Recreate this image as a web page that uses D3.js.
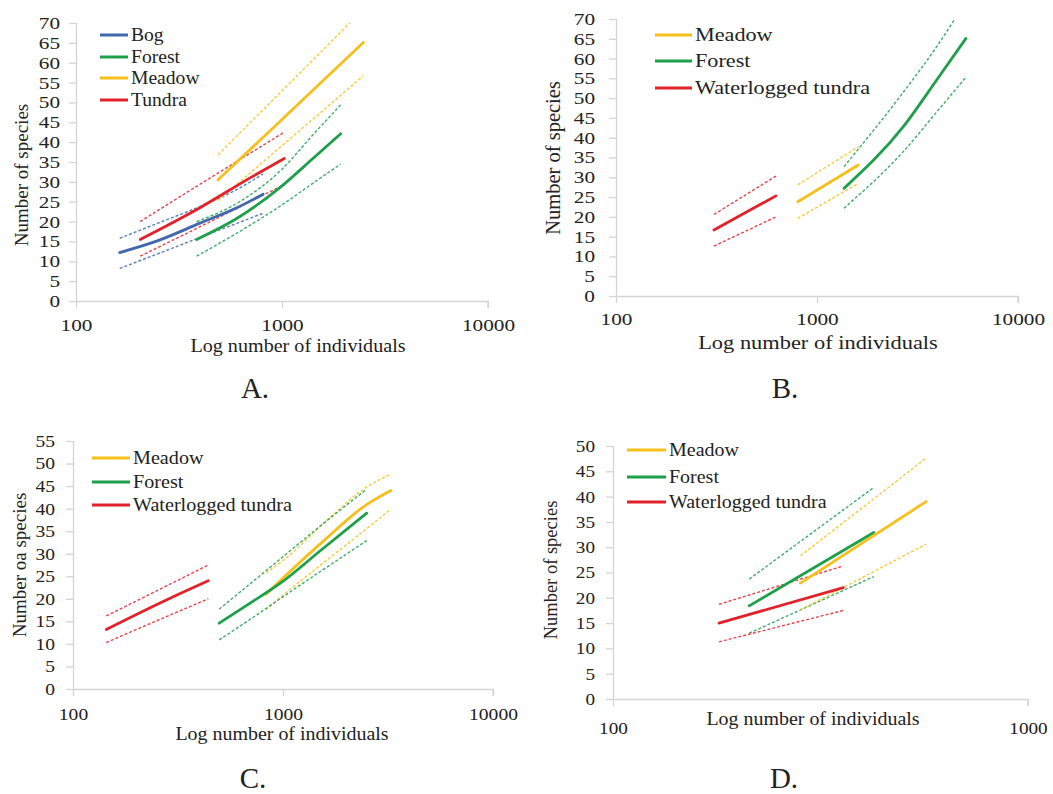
<!DOCTYPE html>
<html lang="en">
<head>
<meta charset="utf-8">
<script src="https://d3js.org/d3.v7.min.js"></script>
<style>
  body { margin: 0; background: #fff; }
</style>
</head>
<body>
<script>

// ---- data ----
// panel A
const aBogX = [163, 250, 400, 600, 810];
const aBogFit = [12.2, 15.2, 19.6, 23.4, 26.9];
const aBogHi = [15.8, 19.6, 23.8, 28.0, 32.0];
const aBogLo = [8.2, 11.9, 16.0, 19.5, 22.1];

const aForestX = [385, 600, 1000, 1400, 1927];
const aForestFit = [15.5, 20.7, 29.0, 35.7, 42.1];
const aForestHi = [20.0, 24.5, 33.2, 41.6, 49.4];
const aForestLo = [11.3, 17.0, 24.2, 29.5, 34.5];

const aMeadowX = [489, 1000, 2482];
const aMeadowFit = [30.5, 45.7, 65.1];
const aMeadowHi = [36.8, 52.9, 73.4];
const aMeadowLo = [25.3, 39.1, 56.7];

const aTundraX = [205, 400, 700, 1026];
const aTundraFit = [15.5, 23.5, 31.0, 35.9];
const aTundraHi = [20.0, 29.4, 37.2, 42.5];
const aTundraLo = [11.3, 18.7, 25.0, 29.3];

// panel B
const bMeadowX = [802, 1606];
const bMeadowFit = [23.8, 33.1];
const bMeadowHi = [28.1, 37.7];
const bMeadowLo = [19.6, 28.5];

const bForestX = [1362, 2688, 3939, 5510];
const bForestFit = [27.2, 42.8, 54.6, 65.1];
const bForestHi = [32.7, 51.5, 63.0, 74.5];
const bForestLo = [22.2, 36.5, 46.5, 55.3];

const bTundraX = [307, 625];
const bTundraFit = [16.7, 25.3];
const bTundraHi = [20.6, 30.3];
const bTundraLo = [12.6, 20.0];

// panel C
const cMeadowX = [830, 1000, 1600, 2415, 3268];
const cMeadowFit = [21.0, 24.6, 33.3, 40.4, 44.0];
const cMeadowHi = [25.8, 28.5, 37.2, 44.3, 47.7];
const cMeadowLo = [17.6, 20.8, 28.4, 35.0, 39.9];

const cForestX = [497, 700, 968, 1500, 2503];
const cForestFit = [14.6, 19.1, 23.4, 30.6, 39.0];
const cForestHi = [17.7, 23.4, 28.8, 36.1, 44.3];
const cForestLo = [10.9, 15.5, 20.0, 26.0, 32.9];

const cTundraX = [144, 280, 441];
const cTundraFit = [13.2, 19.8, 24.0];
const cTundraHi = [16.2, 22.9, 27.5];
const cTundraLo = [10.3, 16.1, 20.0];

// panel D
const dMeadowX = [283, 568];
const dMeadowFit = [22.9, 39.0];
const dMeadowHi = [28.3, 47.6];
const dMeadowLo = [17.6, 30.6];

const dForestX = [213, 425];
const dForestFit = [18.4, 32.9];
const dForestHi = [23.7, 41.8];
const dForestLo = [13.0, 24.2];

const dTundraX = [180, 359];
const dTundraFit = [15.0, 22.0];
const dTundraHi = [18.7, 26.3];
const dTundraLo = [11.3, 17.5];

const xTicksWide = [100, 1000, 10000];
const xTicksNarrow = [100, 1000];

const colors = {
  bog: '#4168ad',
  forest: '#1d9f4b',
  meadow: '#f6bf1c',
  tundra: '#e2222a'
};

const serif = "'Liberation Serif', 'DejaVu Serif', serif";

const svg = d3.select('body')
  .append('svg')
  .attr('width', 1053)
  .attr('height', 794);

function font(sel, size) {
  return sel.attr('font-family', serif)
    .style('font-family', serif)
    .style('font-size', size + 'px')
    .attr('fill', '#222');
}

// the scanned figure is a bit wider than tall, so text gets a horizontal stretch
function stext(g, x, y, sx, size, anchor, str) {
  return font(g.append('text'), size)
    .attr('transform', 'translate(' + x + ',' + y + ') scale(' + sx + ',1)')
    .attr('dy', '0.33em')
    .attr('text-anchor', anchor)
    .text(str);
}

function panel(p) {
  const x = d3.scaleLog().domain(p.xDomain).range([p.left, p.right]);
  const y = d3.scaleLinear().domain([0, p.yMax]).range([p.bottom, p.top]);
  const g = svg.append('g');

  g.append('clipPath').attr('id', 'clip' + p.id)
    .append('rect')
    .attr('x', p.left).attr('y', p.top)
    .attr('width', p.right - p.left).attr('height', p.bottom - p.top);

  // y axis
  const yAxis = d3.axisLeft(y)
    .tickValues(d3.range(0, p.yMax + 1, 5))
    .tickSize(7);
  const ya = g.append('g').attr('transform', 'translate(' + p.left + ',0)').call(yAxis);
  ya.attr('font-family', null);
  font(ya.selectAll('text'), p.tickFont)
    .attr('x', -p.yPad / p.tickSx)
    .attr('transform', 'scale(' + p.tickSx + ',1)');

  // x axis
  const xAxis = d3.axisBottom(x)
    .tickValues(p.xTicks)
    .tickFormat(d3.format('d'))
    .tickSize(7)
    .tickPadding(p.xPad);
  const xa = g.append('g').attr('transform', 'translate(0,' + p.bottom + ')').call(xAxis);
  xa.attr('font-family', null);
  font(xa.selectAll('text'), p.tickFont)
    .attr('transform', 'scale(' + p.tickSx + ',1)');

  g.selectAll('.domain, .tick line').attr('stroke', '#d4d4d4').attr('stroke-width', 1.3);
  xa.select('.domain').attr('d', 'M' + p.left + ',0.5H' + p.right + 'V7');
  ya.select('.domain').attr('d', 'M0.5,' + p.top + 'V' + p.bottom);

  const line = d3.line()
    .x(d => x(d[0]))
    .y(d => y(d[1]))
    .curve(d3.curveMonotoneX);

  const lines = g.append('g').attr('clip-path', 'url(#clip' + p.id + ')');
  p.series.forEach(function(s) {
    [s.hi, s.lo].forEach(function(v) {
      lines.append('path')
        .attr('fill', 'none')
        .attr('stroke', colors[s.key])
        .attr('stroke-opacity', 0.85)
        .attr('stroke-width', 1.4)
        .attr('stroke-dasharray', '3,2')
        .attr('d', line(d3.zip(s.x, v)));
    });
  });
  p.series.forEach(function(s) {
    lines.append('path')
      .attr('fill', 'none')
      .attr('stroke', colors[s.key])
      .attr('stroke-width', 2.8)
      .attr('stroke-linecap', 'round')
      .attr('d', line(d3.zip(s.x, s.fit)));
  });

  // legend
  p.legend.forEach(function(l, i) {
    const ly = p.legY[i];
    g.append('line')
      .attr('x1', p.legX[0]).attr('x2', p.legX[1])
      .attr('y1', ly).attr('y2', ly)
      .attr('stroke', colors[l.key])
      .attr('stroke-width', 3);
    stext(g, p.legX[1] + 3, ly, p.legSx, p.legFont, 'start', l.name);
  });

  // titles
  stext(g, p.xTitle[0], p.xTitle[1], p.titleSx, p.titleFont, 'middle', 'Log number of individuals');

  font(g.append('text'), p.yTitleFont)
    .attr('transform', 'translate(' + p.yTitle[0] + ',' + p.yTitle[1] + ') rotate(-90)')
    .attr('dy', '0.33em')
    .attr('text-anchor', 'middle')
    .text(p.yLabel);

  stext(g, p.tag[0], p.tag[1], 1, 29, 'middle', p.id + '.');
}

panel({
  id: 'A', xDomain: [100, 10000], xTicks: xTicksWide, yMax: 70,
  left: 76, right: 488, top: 23, bottom: 301,
  yPad: 16, xPad: 11, tickFont: 17, tickSx: 1.25,
  legFont: 18.5, legSx: 1.06, titleFont: 19, titleSx: 1.06, yTitleFont: 19,
  legX: [100, 128], legY: [35, 57, 78, 100],
  xTitle: [298, 346], yTitle: [22, 175], tag: [255, 388],
  yLabel: 'Number of species',
  legend: [
    {key: 'bog', name: 'Bog'}, {key: 'forest', name: 'Forest'},
    {key: 'meadow', name: 'Meadow'}, {key: 'tundra', name: 'Tundra'}
  ],
  series: [
    {key: 'bog', x: aBogX, fit: aBogFit, hi: aBogHi, lo: aBogLo},
    {key: 'forest', x: aForestX, fit: aForestFit, hi: aForestHi, lo: aForestLo},
    {key: 'meadow', x: aMeadowX, fit: aMeadowFit, hi: aMeadowHi, lo: aMeadowLo},
    {key: 'tundra', x: aTundraX, fit: aTundraFit, hi: aTundraHi, lo: aTundraLo}
  ]
});

panel({
  id: 'B', xDomain: [100, 10000], xTicks: xTicksWide, yMax: 70,
  left: 616, right: 1018, top: 19, bottom: 296,
  yPad: 21, xPad: 10, tickFont: 17, tickSx: 1.25,
  legFont: 18.5, legSx: 1.2, titleFont: 19.5, titleSx: 1.15, yTitleFont: 20.5,
  legX: [655, 692], legY: [35, 61, 88],
  xTitle: [818, 343], yTitle: [553, 158], tag: [785, 388],
  yLabel: 'Number of species',
  legend: [
    {key: 'meadow', name: 'Meadow'}, {key: 'forest', name: 'Forest'},
    {key: 'tundra', name: 'Waterlogged tundra'}
  ],
  series: [
    {key: 'tundra', x: bTundraX, fit: bTundraFit, hi: bTundraHi, lo: bTundraLo},
    {key: 'meadow', x: bMeadowX, fit: bMeadowFit, hi: bMeadowHi, lo: bMeadowLo},
    {key: 'forest', x: bForestX, fit: bForestFit, hi: bForestHi, lo: bForestLo}
  ]
});

panel({
  id: 'C', xDomain: [100, 10000], xTicks: xTicksWide, yMax: 55,
  left: 73, right: 493, top: 441, bottom: 689,
  yPad: 18, xPad: 12, tickFont: 17, tickSx: 1.15,
  legFont: 18.5, legSx: 1.09, titleFont: 19, titleSx: 1.05, yTitleFont: 19,
  legX: [92, 130], legY: [458, 482, 505],
  xTitle: [282, 734], yTitle: [20, 565], tag: [253, 778],
  yLabel: 'Number oa species',
  legend: [
    {key: 'meadow', name: 'Meadow'}, {key: 'forest', name: 'Forest'},
    {key: 'tundra', name: 'Waterlogged tundra'}
  ],
  series: [
    {key: 'tundra', x: cTundraX, fit: cTundraFit, hi: cTundraHi, lo: cTundraLo},
    {key: 'meadow', x: cMeadowX, fit: cMeadowFit, hi: cMeadowHi, lo: cMeadowLo},
    {key: 'forest', x: cForestX, fit: cForestFit, hi: cForestHi, lo: cForestLo}
  ]
});

panel({
  id: 'D', xDomain: [100, 1000], xTicks: xTicksNarrow, yMax: 50,
  left: 613, right: 1028, top: 446, bottom: 699,
  yPad: 18, xPad: 16, tickFont: 17, tickSx: 1.13,
  legFont: 18.5, legSx: 1.08, titleFont: 19, titleSx: 1.05, yTitleFont: 18.5,
  legX: [627, 666], legY: [450, 477, 502],
  xTitle: [813, 719], yTitle: [551, 570], tag: [784, 778],
  yLabel: 'Number of species',
  legend: [
    {key: 'meadow', name: 'Meadow'}, {key: 'forest', name: 'Forest'},
    {key: 'tundra', name: 'Waterlogged tundra'}
  ],
  series: [
    {key: 'tundra', x: dTundraX, fit: dTundraFit, hi: dTundraHi, lo: dTundraLo},
    {key: 'forest', x: dForestX, fit: dForestFit, hi: dForestHi, lo: dForestLo},
    {key: 'meadow', x: dMeadowX, fit: dMeadowFit, hi: dMeadowHi, lo: dMeadowLo}
  ]
});

</script>
</body>
</html>
